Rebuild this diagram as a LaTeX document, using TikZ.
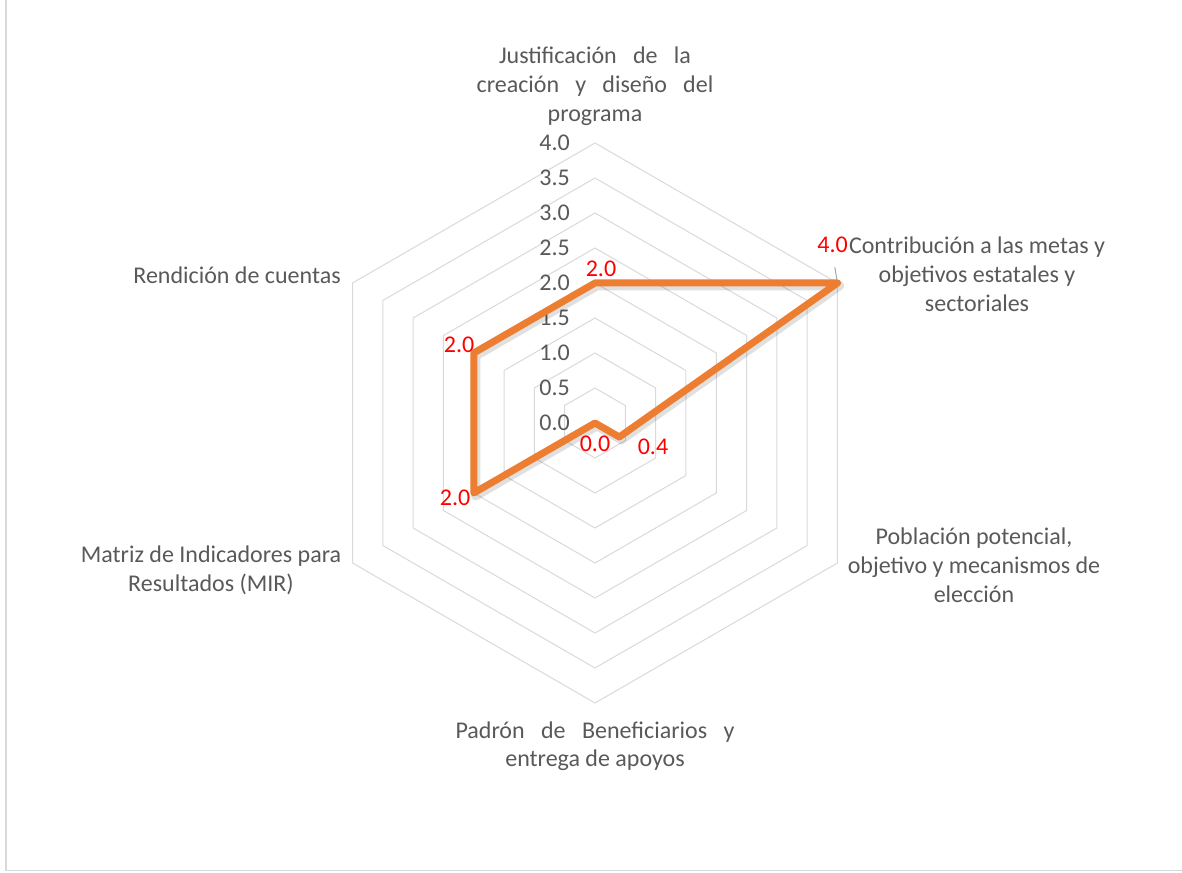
\documentclass[tikz,border=0pt]{standalone}
\usepackage{fontspec}
\setmainfont{Carlito}
\usetikzlibrary{calc}
\usepackage{xcolor}
\definecolor{axisgray}{HTML}{595959}
\definecolor{gridgray}{HTML}{D9D9D9}
\definecolor{leadergray}{HTML}{A6A6A6}
\definecolor{seriesorange}{HTML}{ED7D31}
\definecolor{valred}{HTML}{FF0000}

\begin{document}
\begin{tikzpicture}[x=0.75pt, y=0.75pt,
  every node/.style={font=\fontsize{18}{21.75}\selectfont, text=axisgray, inner sep=0},
  gridline/.style={draw=gridgray, line width=0.75pt},
  frameline/.style={draw=gridgray, line width=0.9pt},
  ticklabel/.style={anchor=east},
  axislabel/.style={anchor=base, align=flush center, text width=#1},
  axislabel/.default=200pt,
  datalabel/.style={text=valred},
  series/.style={draw=seriesorange, line width=5.25pt, line join=round},
  seriesshadow/.style={draw=black, opacity=.12, line width=7pt, line join=round,
    transform canvas={xshift=1.5pt, yshift=-2pt}},
  leader/.style={draw=leadergray, line width=0.75pt, shorten <=10.5pt, shorten >=2.25pt}]
\useasboundingbox (0,0) rectangle (1182,872);
\draw[frameline] (6,872) -- (6,1.5) -- (1182,1.5);

\begin{scope}[shift={(595,449)}]
\foreach \k in {1,...,8}
 \draw[gridline] (90:{35*\k}) -- (30:{35*\k}) -- (-30:{35*\k}) -- (-90:{35*\k})
   -- (-150:{35*\k}) -- (150:{35*\k}) -- cycle;
\coordinate (p1) at (90:140);
\coordinate (p2) at (30:280);
\coordinate (p3) at (-30:28);
\coordinate (p4) at (0,0);
\coordinate (p5) at (-150:140);
\coordinate (p6) at (150:140);
\end{scope}

\foreach \v [count=\i from 0] in {0.0,0.5,1.0,1.5,2.0,2.5,3.0,3.5,4.0}
 \node[ticklabel] (tick\i) at (570,{449+35*\i}) {\v};

\draw[seriesshadow] (p1) -- (p2) -- (p3) -- (p4) -- (p5) -- (p6) -- cycle;
\draw[series] (p1) -- (p2) -- (p3) -- (p4) -- (p5) -- (p6) -- cycle;

\node[datalabel, anchor=base] (val1) at (601,595) {2.0};
\node[datalabel, anchor=base east] (val2) at (848,619) {4.0};
\node[datalabel, anchor=base] (val3) at (653,417) {0.4};
\node[datalabel, anchor=base] (val4) at (595,420) {0.0};
\node[datalabel, anchor=base east] (val5) at (470.5,366) {2.0};
\node[datalabel, anchor=base east] (val6) at (474.5,519) {2.0};
\draw[leader] (val2.south) -- (p2);

\node[axislabel] (justif) at (595,808) {\makebox[144pt]{Justificación\hfill de\hfill la}\\\makebox[177.5pt]{creación\hfill y\hfill diseño\hfill del}\\programa};
\node[axislabel] (contrib) at (977,618) {Contribución a las metas y\\objetivos estatales y\\sectoriales};
\node[axislabel] (poblac) at (974,327) {Población potencial,\\objetivo y mecanismos de\\elección};
\node[axislabel=215pt] (padron) at (595,134) {\makebox[209.25pt]{Padrón\hfill de\hfill Beneficiarios\hfill y}\\entrega de apoyos};
\node[axislabel] (matriz) at (211,309) {Matriz de Indicadores para\\Resultados (MIR)};
\node[anchor=base east] (rendic) at (341,588) {Rendición de cuentas};
\end{tikzpicture}
\end{document}
